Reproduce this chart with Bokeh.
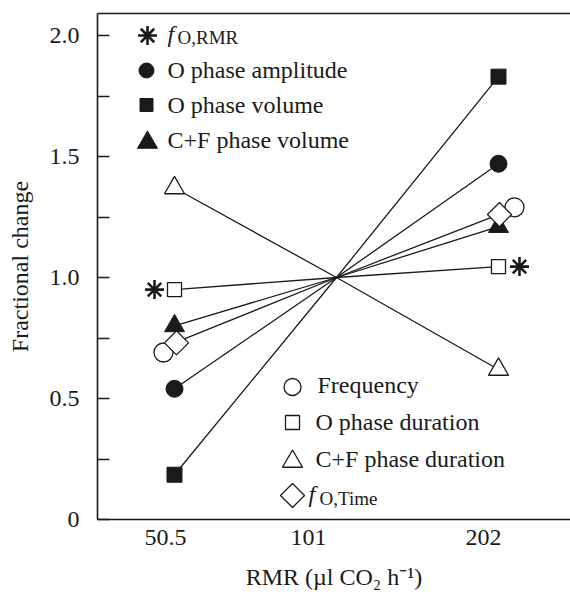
import math
from bokeh.plotting import figure
from bokeh.models import Range1d, FixedTicker, LinearAxis, Label
from bokeh.embed import file_html
from bokeh.resources import INLINE

# ---------------- data ----------------
rmr = [50.5, 101, 202]
x_tick_labels = ["50.5", "101", "202"]
y_ticks = [0.0, 0.5, 1.0, 1.5, 2.0]
y_tick_labels = ["0", "0.5", "1.0", "1.5", "2.0"]
y_minor_ticks = [0.25, 0.75, 1.25, 1.75]

o_amp = [0.54, 1.0, 1.47]      # O phase amplitude (filled circle)
o_vol = [0.185, 1.0, 1.83]     # O phase volume (filled square)
cf_vol = [0.80, 1.0, 1.21]     # C+F phase volume (filled triangle)
freq = [0.69, 1.0, 1.29]       # Frequency (open circle)
o_dur = [0.95, 1.0, 1.045]     # O phase duration (open square)
cf_dur = [1.37, 1.0, 0.62]     # C+F phase duration (open triangle)
f_time = [0.73, 1.0, 1.26]     # f O,Time (open diamond)
f_rmr = [0.95, 1.045]          # f O,RMR (asterisks, at 50.5 and 202)
f_rmr_x = [50.5, 202]

# ---------------- layout ----------------
W, H = 570, 594
FL, FR, FT, FB = 97, 570, 13, 519     # frame edges in page pixels
CX, KX = 336, 162                      # pixel of 101, pixels per doubling
YMAX = (FB - FT) / 242.0

def X(px):
    return 101 * 2 ** ((px - CX) / KX)

def Y(py):
    return (FB - py) / 242.0

def dodge(xs, dpx):
    return [x * 2 ** (d / KX) for x, d in zip(xs, dpx)]

INK = "#1a1a1a"
FONT = "Liberation Serif"

p = figure(width=W, height=H, x_axis_type="log",
           x_range=Range1d(X(FL), X(FR)), y_range=Range1d(0, YMAX),
           output_backend="svg", toolbar_location=None,
           min_border_left=FL, min_border_right=0,
           min_border_top=FT, min_border_bottom=H - FB)
p.outline_line_color = None
p.grid.visible = False
p.background_fill_color = "white"
p.border_fill_color = "white"

# y axis
yax = p.yaxis[0]
yax.ticker = FixedTicker(ticks=y_ticks, minor_ticks=y_minor_ticks)
yax.major_label_overrides = {t: s for t, s in zip(y_ticks, y_tick_labels)}
yax.major_tick_in = 12
yax.major_tick_out = 0
yax.minor_tick_in = 12
yax.minor_tick_out = 0
yax.major_label_standoff = 18
yax.axis_label = "Fractional change"
yax.axis_label_standoff = 14
yax.axis_label_text_font_style = "normal"

# x axis: tick labels sit a little left of the data columns, as in the original
xlabel_shift = [-9, -28, -15]
x_label_pos = dodge(rmr, xlabel_shift)
xax = p.xaxis[0]
xax.ticker = FixedTicker(ticks=x_label_pos)
xax.major_label_overrides = {t: s for t, s in zip(x_label_pos, x_tick_labels)}
xax.major_tick_in = 0
xax.major_tick_out = 0
xax.minor_tick_in = 0
xax.minor_tick_out = 0
xax.major_label_standoff = 10
xax.axis_label = "RMR (µl CO₂ h⁻¹)"
xax.axis_label_standoff = 16
xax.axis_label_text_font_style = "normal"

top = LinearAxis(ticker=FixedTicker(ticks=[]), major_label_text_font_size="0px")
p.add_layout(top, "above")

for a in (yax, xax, top):
    a.axis_line_width = 1.6
    a.axis_line_color = INK
    a.major_tick_line_color = INK
    a.minor_tick_line_color = INK
    a.major_tick_line_width = 1.4
    a.minor_tick_line_width = 1.4
    a.major_label_text_font = FONT
    a.axis_label_text_font = FONT
    a.axis_label_text_font_size = "24px"
    a.axis_label_text_color = INK
    a.major_label_text_color = INK
yax.major_label_text_font_size = "24px"
xax.major_label_text_font_size = "24px"

# ---------------- lines ----------------
line_kw = dict(line_color=INK, line_width=1.3)
for ys in (o_vol, o_amp, cf_dur, o_dur, cf_vol, f_time):
    p.line(rmr, ys, **line_kw)

# ---------------- markers ----------------
p.scatter(rmr[::2], o_vol[::2], marker="square", size=15,
          fill_color=INK, line_color=INK)
p.scatter(rmr[::2], o_amp[::2], marker="circle", size=17,
          fill_color=INK, line_color=INK)
p.scatter(rmr[::2], cf_dur[::2], marker="triangle", size=20,
          fill_color="white", line_color=INK, line_width=1.3)
p.scatter(rmr[::2], o_dur[::2], marker="square", size=14,
          fill_color="white", line_color=INK, line_width=1.3)
p.scatter(rmr[::2], cf_vol[::2], marker="triangle", size=20,
          fill_color=INK, line_color=INK)
p.scatter(dodge(rmr, [-11, 0, 16])[::2], freq[::2], marker="circle", size=19,
          fill_color="white", line_color=INK, line_width=1.3)
p.scatter(dodge(rmr, [2, 0, 1])[::2], f_time[::2], marker="square", angle=math.pi / 4,
          size=17, fill_color="white", line_color=INK, line_width=1.3)
p.scatter(dodge(f_rmr_x, [-20, 21]), f_rmr, marker="asterisk", size=19,
          line_color=INK, line_width=2.6)

# ---------------- legends (drawn by hand) ----------------
def txt(px, py, s, size="24px", style="normal"):
    p.add_layout(Label(x=X(px), y=Y(py), text=s, text_font=FONT,
                       text_font_size=size, text_font_style=style,
                       text_color=INK, text_align="left",
                       text_baseline="alphabetic"))

# top-left legend
p.scatter([X(147)], [Y(35)], marker="asterisk", size=19, line_color=INK, line_width=2.6)
p.scatter([X(146)], [Y(70)], marker="circle", size=15, fill_color=INK, line_color=INK)
p.scatter([X(146)], [Y(104.5)], marker="square", size=13, fill_color=INK, line_color=INK)
p.scatter([X(147)], [Y(142)], marker="triangle", size=20, fill_color=INK, line_color=INK)
txt(167, 33, "f", style="italic")
txt(177, 37, "O,RMR", size="19px")
txt(167, 69, "O phase amplitude")
txt(167, 104, "O phase volume")
txt(167, 139, "C+F phase volume")

# bottom-right legend
p.scatter([X(292)], [Y(386.5)], marker="circle", size=17, fill_color="white",
          line_color=INK, line_width=1.3)
p.scatter([X(292)], [Y(422)], marker="square", size=14, fill_color="white",
          line_color=INK, line_width=1.3)
p.scatter([X(292)], [Y(461)], marker="triangle", size=20, fill_color="white",
          line_color=INK, line_width=1.3)
p.scatter([X(292)], [Y(495)], marker="square", angle=math.pi / 4, size=17,
          fill_color="white", line_color=INK, line_width=1.3)
txt(317, 384, "Frequency")
txt(315, 421, "O phase duration")
txt(315, 458, "C+F phase duration")
txt(308, 493, "f", style="italic")
txt(319, 498, "O,Time", size="19px")

open("out.html", "w").write(file_html(p, INLINE))
